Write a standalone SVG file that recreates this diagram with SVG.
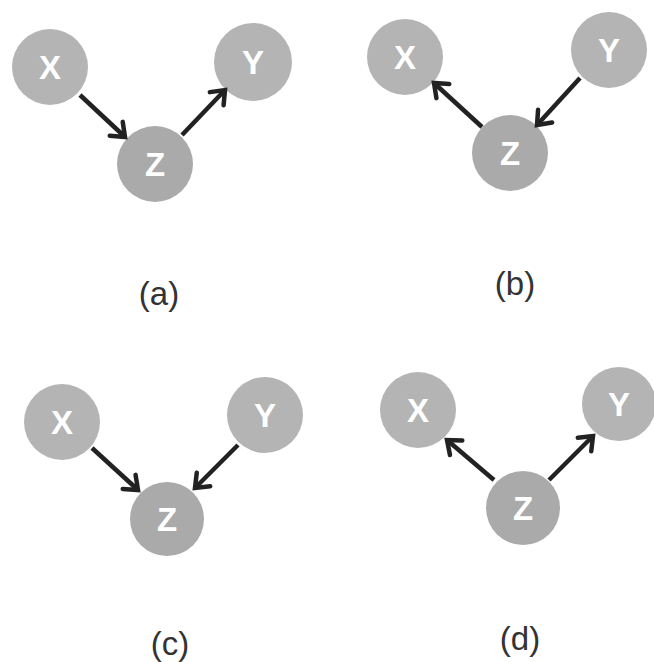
<svg xmlns="http://www.w3.org/2000/svg" width="654" height="662" viewBox="0 0 654 662">
  <defs>
    <marker id="chevron" markerUnits="userSpaceOnUse" markerWidth="30" markerHeight="30" refX="0" refY="0" orient="auto" overflow="visible" viewBox="-15 -15 30 30">
      <path d="M-12,-9.5 L0,0 L-12,9.5" fill="none" stroke="#222" stroke-width="4.5" stroke-linecap="round" stroke-linejoin="miter"/>
    </marker>
  </defs>
  <style>
    .node { fill: #b4b4b4; }
    .node.z { fill: #aaaaaa; }
    .nlabel { font-family: "Liberation Sans", Arial, sans-serif; font-size: 33px; font-weight: bold; fill: #ffffff; text-anchor: middle; }
    .edge { stroke: #222; stroke-width: 4.5; fill: none; marker-end: url(#chevron); }
    .caption { font-family: "Liberation Sans", Arial, sans-serif; font-size: 33px; fill: #333333; text-anchor: middle; }
  </style>
  <rect width="654" height="662" fill="#ffffff"/>

  <!-- (a) chain X -> Z -> Y -->
  <g id="a-X"><circle class="node" cx="50" cy="67" r="38"/><text class="nlabel" x="50" y="79">X</text></g>
  <g id="a-Y"><circle class="node" cx="253" cy="62" r="39"/><text class="nlabel" x="253" y="74">Y</text></g>
  <g id="a-Z"><circle class="node z" cx="155" cy="164" r="38"/><text class="nlabel" x="155" y="176">Z</text></g>

  <!-- (b) chain Y -> Z -> X -->
  <g id="b-X"><circle class="node" cx="405" cy="57" r="38"/><text class="nlabel" x="405" y="69">X</text></g>
  <g id="b-Y"><circle class="node" cx="609" cy="50" r="38"/><text class="nlabel" x="609" y="62">Y</text></g>
  <g id="b-Z"><circle class="node z" cx="510" cy="153" r="38"/><text class="nlabel" x="510" y="165">Z</text></g>

  <!-- (c) collider X -> Z <- Y -->
  <g id="c-X"><circle class="node" cx="62" cy="422" r="38"/><text class="nlabel" x="62" y="434">X</text></g>
  <g id="c-Y"><circle class="node" cx="265" cy="415" r="38"/><text class="nlabel" x="265" y="427">Y</text></g>
  <g id="c-Z"><circle class="node z" cx="167" cy="519" r="37"/><text class="nlabel" x="167" y="531">Z</text></g>

  <!-- (d) fork X <- Z -> Y -->
  <g id="d-X"><circle class="node" cx="418" cy="410" r="38"/><text class="nlabel" x="418" y="422">X</text></g>
  <g id="d-Y"><circle class="node" cx="619" cy="404" r="37"/><text class="nlabel" x="619" y="416">Y</text></g>
  <g id="d-Z"><circle class="node z" cx="523" cy="508" r="37"/><text class="nlabel" x="523" y="520">Z</text></g>

  <g id="connectors">
    <line class="edge" x1="80" y1="95" x2="125" y2="137"/>
    <line class="edge" x1="182" y1="135" x2="225" y2="90"/>
    <line class="edge" x1="482" y1="127" x2="434" y2="83"/>
    <line class="edge" x1="580" y1="78" x2="537" y2="125"/>
    <line class="edge" x1="92" y1="448" x2="138" y2="490"/>
    <line class="edge" x1="238" y1="445" x2="195" y2="488"/>
    <line class="edge" x1="494" y1="480" x2="447" y2="440"/>
    <line class="edge" x1="549" y1="480" x2="593" y2="436"/>
  </g>

  <g id="captions">
    <text class="caption" x="159" y="305">(a)</text>
    <text class="caption" x="515" y="295">(b)</text>
    <text class="caption" x="170" y="655">(c)</text>
    <text class="caption" x="520" y="650">(d)</text>
  </g>
</svg>
